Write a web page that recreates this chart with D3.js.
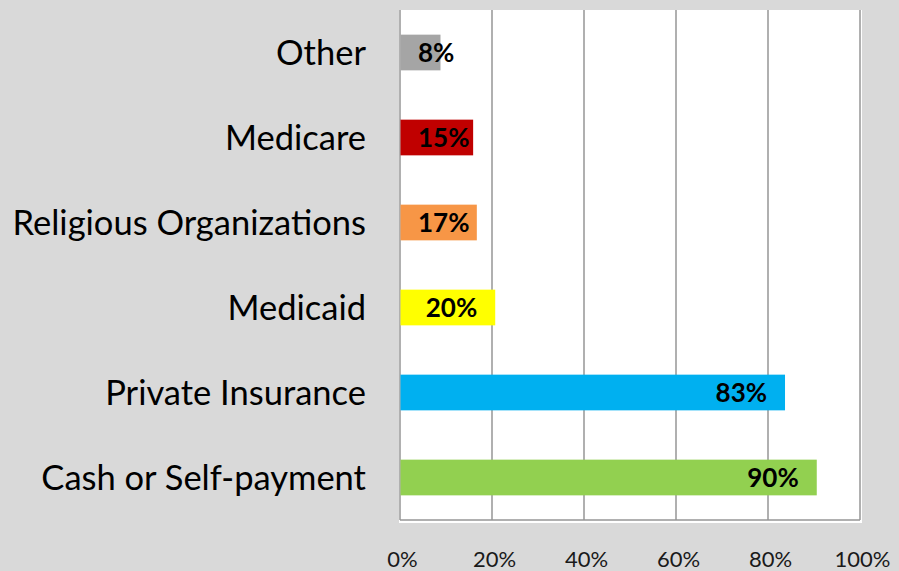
<!DOCTYPE html>
<html>
<head>
<meta charset="utf-8">
<script src="https://cdn.jsdelivr.net/npm/d3@7"></script>
<style>
  html, body { margin: 0; padding: 0; background: #d9d9d9; }
  svg { display: block; }
</style>
</head>
<body>
<svg id="chart" width="899" height="571"></svg>
<script>
// ---- data ----
const categories = ["Other", "Medicare", "Religious Organizations", "Medicaid", "Private Insurance", "Cash or Self-payment"];
const values = [8.8, 15.9, 16.7, 20.7, 83.7, 90.6];
const valueLabels = ["8%", "15%", "17%", "20%", "83%", "90%"];
const colors = ["#a5a5a5", "#c00000", "#f79646", "#ffff00", "#00b0f0", "#92d050"];
const tickValues = [0, 20, 40, 60, 80, 100];
const tickLabels = ["0%", "20%", "40%", "60%", "80%", "100%"];

(function () {
const W = 899, H = 571;
const svg = d3.select("#chart");
svg.append("rect").attr("width", W).attr("height", H).attr("fill", "#d9d9d9");

const pLeft = 400, pRight = 860, pTop = 10, pBottom = 520;
const x = d3.scaleLinear().domain([0, 100]).range([pLeft, pRight]);
const y = d3.scaleBand().domain(categories).range([pTop, pBottom]).paddingInner(0.58).paddingOuter(0.29);

// plot area
svg.append("rect").attr("x", pLeft - 1).attr("y", pTop).attr("width", pRight - pLeft + 3).attr("height", pBottom - pTop + 3).attr("fill", "#ffffff");

// gridlines
svg.append("g").selectAll("line").data(tickValues).join("line")
  .attr("x1", d => x(d)).attr("x2", d => x(d))
  .attr("y1", pTop).attr("y2", pBottom)
  .attr("stroke", "#969696").attr("stroke-width", 1.5);
// bottom axis line
svg.append("line").attr("x1", pLeft).attr("x2", pRight).attr("y1", pBottom).attr("y2", pBottom)
  .attr("stroke", "#969696").attr("stroke-width", 1.5);

// bars
const rows = categories.map((c, i) => ({ c, v: values[i], lab: valueLabels[i], col: colors[i] }));
svg.append("g").selectAll("rect").data(rows).join("rect")
  .attr("x", x(0) + 0.5)
  .attr("y", d => y(d.c))
  .attr("width", d => x(d.v) - x(0) - 0.5)
  .attr("height", y.bandwidth())
  .attr("fill", d => d.col);

// value labels
const vl = svg.append("g").selectAll("text").data(rows).join("text")
  .attr("font-family", "Lato, sans-serif")
  .attr("font-weight", "bold")
  .attr("font-size", 26)
  .attr("fill", "#000")
  .attr("y", d => y(d.c) + y.bandwidth() / 2 + 9.5)
  .text(d => d.lab);
vl.each(function(d) {
  const w = this.getComputedTextLength();
  const xs = Math.max(x(0) + 18, x(d.v) - 18 - w);
  d3.select(this).attr("x", xs);
});

// category labels
svg.append("g").selectAll("text").data(categories).join("text")
  .attr("font-family", "Lato, sans-serif")
  .attr("font-size", 34.5)
  .attr("fill", "#000")
  .attr("text-anchor", "end")
  .attr("x", 366)
  .attr("y", d => y(d) + y.bandwidth() / 2 + 12.5)
  .text(d => d);

// tick labels
svg.append("g").selectAll("text").data(tickValues).join("text")
  .attr("font-family", "Lato, sans-serif")
  .attr("font-size", 22)
  .attr("fill", "#1a1a1a")
  .attr("text-anchor", "middle")
  .attr("x", (d, i) => x(d) + 2.5)
  .attr("y", 566.5)
  .text((d, i) => tickLabels[i]);
})();
</script>
</body>
</html>
